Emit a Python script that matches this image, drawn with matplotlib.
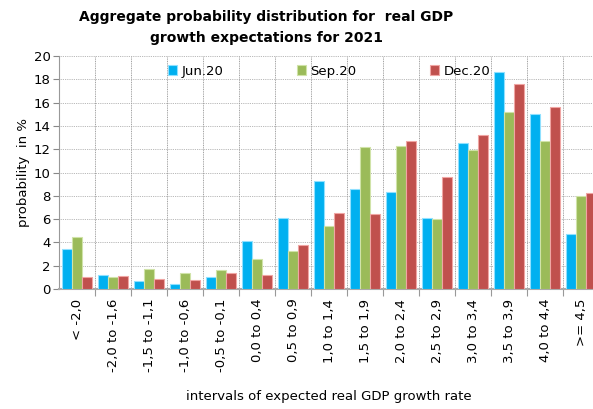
import numpy as np
import matplotlib
matplotlib.use("Agg")
from matplotlib import pyplot as plt

categories = ["< -2,0", "-2,0 to -1,6", "-1,5 to -1,1", "-1,0 to -0,6", "-0,5 to -0,1",
              "0,0 to 0,4", "0,5 to 0,9", "1,0 to 1,4", "1,5 to 1,9", "2,0 to 2,4",
              "2,5 to 2,9", "3,0 to 3,4", "3,5 to 3,9", "4,0 to 4,4", ">= 4,5"]
jun20 = [3.4, 1.2, 0.7, 0.4, 1.0, 4.1, 6.1, 9.3, 8.6, 8.3, 6.1, 12.5, 18.6, 15.0, 4.7]
sep20 = [4.5, 1.0, 1.7, 1.4, 1.6, 2.6, 3.3, 5.4, 12.2, 12.3, 6.0, 11.9, 15.2, 12.7, 8.0]
dec20 = [1.0, 1.1, 0.9, 0.8, 1.4, 1.2, 3.8, 6.5, 6.4, 12.7, 9.6, 13.2, 17.6, 15.6, 8.2]
series_names = ["Jun.20", "Sep.20", "Dec.20"]

colors = ["#00B0F0", "#9BBB59", "#C0504D"]
edges = ["#8FE0FF", "#D0E3A8", "#F0A5A3"]

fig = plt.figure(figsize=(5.93, 4.09), dpi=100)
ax = fig.add_axes([59 / 593, 120 / 409, 540 / 593, 233 / 409])

x = np.arange(len(categories))
w = 0.265
for i, (vals, name) in enumerate(zip([jun20, sep20, dec20], series_names)):
    ax.bar(x + (i - 1) * w * 1.02, vals, width=w, color=colors[i], edgecolor=edges[i],
           linewidth=0.8, label=name, zorder=3)

ax.set_xlim(-0.5, len(categories) - 0.5)
ax.set_ylim(0, 20)
ax.set_yticks(range(0, 21, 2))
ax.tick_params(axis="y", labelsize=9.5, length=4, color="#888888", pad=2)

# ticks / grid at category boundaries
ax.set_xticks(x + 0.5, minor=False)
ax.set_xticklabels([])
ax.set_xticks(x, minor=True)
ax.set_xticklabels(categories, minor=True, rotation=90, fontsize=9.5, va="top")
ax.tick_params(axis="x", which="minor", length=0, pad=7)
ax.tick_params(axis="x", which="major", length=5, color="#999999")

ax.grid(axis="y", linestyle=(0, (1, 1.2)), color="#a0a0a0", linewidth=0.6, zorder=0)
ax.grid(axis="x", which="major", linestyle=(0, (1, 0.8)), color="#a0a0a0", linewidth=0.7, zorder=0)

for s in ["top", "right"]:
    ax.spines[s].set_visible(False)
ax.spines["left"].set_color("#999999")
ax.spines["bottom"].set_color("#aaaaaa")
ax.spines["bottom"].set_linewidth(1.5)

ax.set_ylabel("probability  in %", fontsize=9.5, labelpad=3)
ax.set_xlabel("intervals of expected real GDP growth rate", fontsize=9.5, labelpad=13)

ax.legend(loc="center", bbox_to_anchor=(0.5, 0.935), ncol=3, frameon=False,
          fontsize=9.5, handlelength=0.7, handleheight=0.7, handletextpad=0.3,
          columnspacing=5.6)

fig.suptitle("Aggregate probability distribution for  real GDP\ngrowth expectations for 2021",
             x=266 / 593, y=0.975, fontsize=10, fontweight="bold", linespacing=1.6)

fig.savefig("out.png", dpi=100)
